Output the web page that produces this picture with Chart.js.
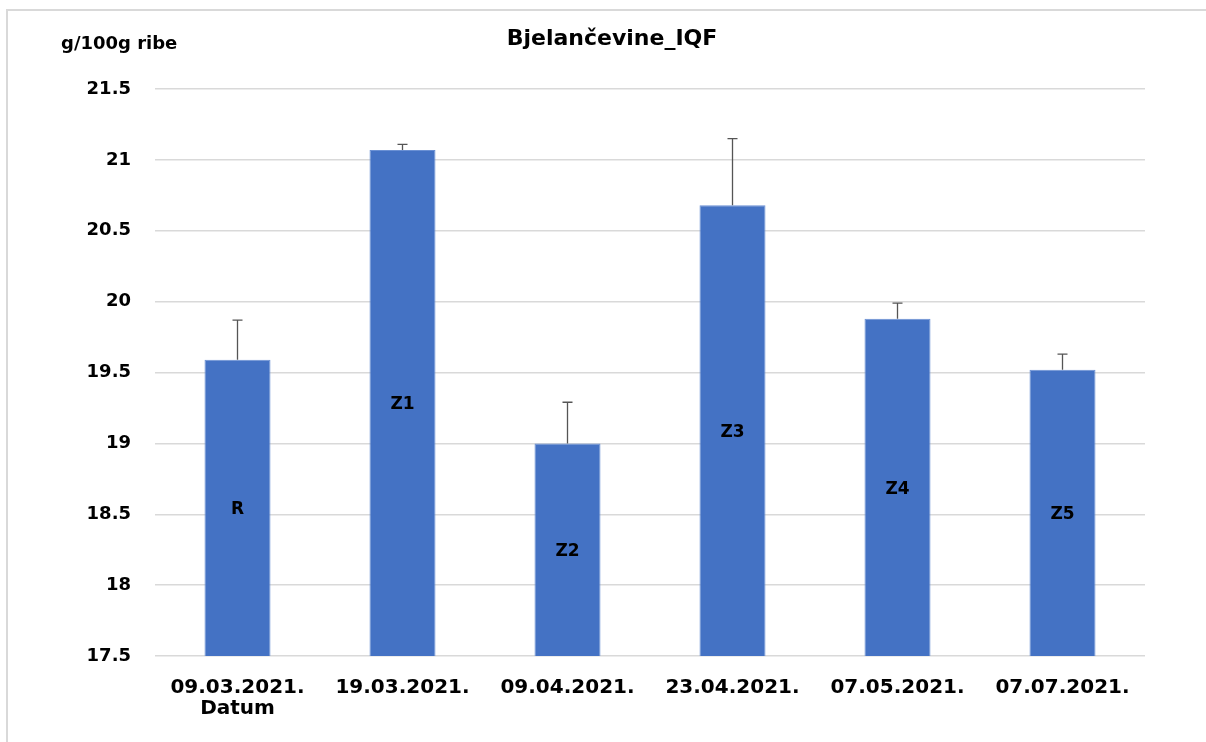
<!DOCTYPE html>
<html>
<head>
<meta charset="utf-8">
<script src="https://cdn.jsdelivr.net/npm/chart.js@4.4.1/dist/chart.umd.min.js"></script>
<style>
  html, body { margin: 0; padding: 0; background: #fff; overflow: hidden; }
  #wrap { width: 1206px; height: 742px; }
  canvas { display: block; }
</style>
</head>
<body>
<div id="wrap"><canvas id="chart" width="1206" height="742"></canvas></div>
<script>
// ========== Data ==========
const dates = [['09.03.2021.', 'Datum'], '19.03.2021.', '09.04.2021.', '23.04.2021.', '07.05.2021.', '07.07.2021.'];
const groups = ['R', 'Z1', 'Z2', 'Z3', 'Z4', 'Z5'];
const protein = [19.59, 21.07, 19.00, 20.68, 19.88, 19.52];
const proteinSd = [0.28, 0.04, 0.29, 0.47, 0.11, 0.11];
const yMin = 17.5;
const yMax = 21.5;
const yStep = 0.5;

const FONT = 'DejaVu Sans';

// frame lines + titles
const decorPlugin = {
  id: 'decor',
  beforeDraw(chart) {
    const c = chart.ctx;
    c.save();
    c.fillStyle = '#fff';
    c.fillRect(0, 0, chart.width, chart.height);
    c.strokeStyle = '#d9d9d9';
    c.lineWidth = 2;
    c.beginPath();
    c.moveTo(7, 750);
    c.lineTo(7, 10);
    c.lineTo(1220, 10);
    c.stroke();
    c.restore();
  },
  afterDraw(chart) {
    const c = chart.ctx;
    c.save();
    c.fillStyle = '#000';
    c.textBaseline = 'middle';
    c.font = `bold 22px "${FONT}"`;
    c.textAlign = 'center';
    c.fillText('Bjelančevine_IQF', 612, 39);
    c.font = `bold 18px "${FONT}"`;
    c.textAlign = 'left';
    c.fillText('g/100g ribe', 61, 44);
    c.restore();
  }
};

// upper error bars + group labels inside bars
const barExtrasPlugin = {
  id: 'barExtras',
  afterDatasetsDraw(chart) {
    const c = chart.ctx;
    const y = chart.scales.y;
    const meta = chart.getDatasetMeta(0);
    const basePx = y.getPixelForValue(yMin);
    c.save();
    meta.data.forEach((bar, i) => {
      const x = bar.x;
      const top = y.getPixelForValue(protein[i]);
      const errY = y.getPixelForValue(protein[i] + proteinSd[i]);
      c.strokeStyle = '#555';
      c.lineWidth = 1.3;
      c.beginPath();
      c.moveTo(x, top);
      c.lineTo(x, errY);
      c.moveTo(x - 5, errY);
      c.lineTo(x + 5, errY);
      c.stroke();

      c.fillStyle = '#000';
      c.font = `bold 17px "${FONT}"`;
      c.textAlign = 'center';
      c.textBaseline = 'middle';
      c.fillText(groups[i], x, (top + basePx) / 2 + 2);
    });
    c.restore();
  }
};

new Chart(document.getElementById('chart'), {
  type: 'bar',
  data: {
    labels: dates,
    datasets: [{
      data: protein,
      backgroundColor: '#4472c4',
      borderColor: '#6a90d4',
      borderWidth: 1,
      barPercentage: 0.4,
      categoryPercentage: 1
    }]
  },
  options: {
    responsive: false,
    animation: false,
    layout: { padding: { top: 89, right: 61, left: 0, bottom: 0 } },
    plugins: {
      legend: { display: false },
      tooltip: { enabled: false }
    },
    scales: {
      x: {
        grid: { display: false },
        border: { display: false },
        ticks: {
          color: '#000',
          padding: 13,
          maxRotation: 0,
          font: { family: FONT, size: 20, weight: 'bold', lineHeight: 1.05 }
        },
        afterFit(scale) { scale.height = 86; }
      },
      y: {
        min: yMin,
        max: yMax,
        border: { display: false },
        grid: { color: '#d9d9d9', lineWidth: 1.5, drawTicks: false },
        ticks: {
          stepSize: yStep,
          color: '#000',
          padding: 24,
          font: { family: FONT, size: 18, weight: 'bold' },
          callback: (v) => String(Math.round(v * 10) / 10)
        },
        afterFit(scale) { scale.width = 155; }
      }
    }
  },
  plugins: [decorPlugin, barExtrasPlugin]
});
</script>
</body>
</html>
